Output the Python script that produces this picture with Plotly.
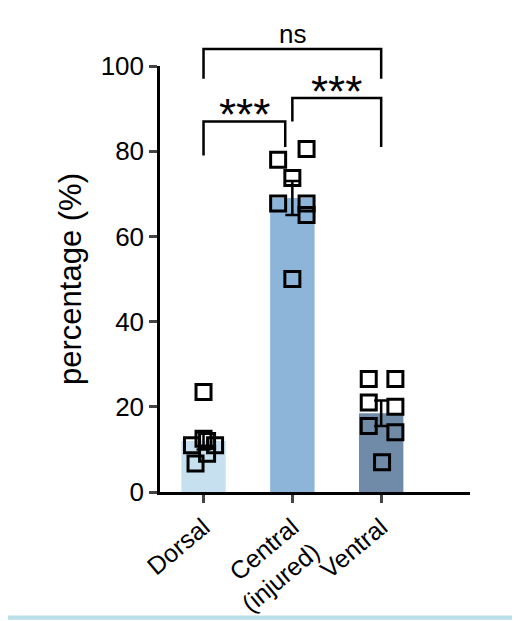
import plotly.graph_objects as go

categories = ["Dorsal", "Central<br>(injured)", "Ventral"]
means = [12, 69, 18.5]
errs = [2, 4, 3]
colors = ["#c6e0ef", "#8db5da", "#6f8ba8"]
pts_y = [
    [23.5, 11, 12.5, 12, 11, 6.7, 9],
    [78, 80.5, 73.7, 67.7, 67.7, 65, 50],
    [26.5, 26.5, 21, 20, 15.5, 14, 7],
]
pts_dx = [
    [0, -0.13, 0, 0.04, 0.13, -0.09, 0.04],
    [-0.16, 0.16, 0, -0.16, 0.16, 0.16, 0],
    [-0.14, 0.16, -0.14, 0.16, -0.14, 0.16, 0.01],
]

fig = go.Figure()
fig.add_bar(x=[0, 1, 2], y=means, width=0.5, marker=dict(color=colors, line_width=0),
            error_y=dict(type="data", array=errs, color="black", thickness=2.5, width=7))
for i in range(3):
    fig.add_scatter(x=[i + d for d in pts_dx[i]], y=pts_y[i], mode="markers",
                    marker=dict(symbol="square-open", size=15, color="black", line=dict(width=3)),
                    showlegend=False, cliponaxis=False)

def br(x0, x1, y, yl0, yl1):
    fig.add_shape(type="path", xref="x", yref="paper",
                  path=f"M {x0},{yl0/100} L {x0},{y/100} L {x1},{y/100} L {x1},{yl1/100}",
                  line=dict(color="black", width=2.5))

br(0, 2, 104, 97, 97)
br(0, 0.92, 87, 79, 81)
br(1.0, 2, 92.5, 87, 81)
fig.add_annotation(x=0.46, y=0.87, xref="x", yref="paper", text="***", showarrow=False,
                   yanchor="bottom", font=dict(size=44, color="black"), yshift=-20)
fig.add_annotation(x=1.5, y=0.925, xref="x", yref="paper", text="***", showarrow=False,
                   yanchor="bottom", font=dict(size=44, color="black"), yshift=-20)
fig.add_annotation(x=1, y=1.04, xref="x", yref="paper", text="ns", showarrow=False,
                   yanchor="bottom", font=dict(size=26, color="black"), yshift=-2)
fig.add_shape(type="rect", xref="paper", yref="paper", x0=-1, x1=2, y0=-0.29, y1=-0.30,
              fillcolor="#b9dfe9", line_width=0)

fig.update_layout(
    width=520, height=621, plot_bgcolor="white", paper_bgcolor="white", showlegend=False,
    margin=dict(l=152, r=58, t=58, b=129),
    font=dict(family="Liberation Sans, Arial", color="black", size=26),
    xaxis=dict(range=[-0.49, 3.0], tickvals=[0, 1, 2], ticktext=categories, tickangle=-40,
               showline=True, linecolor="black", linewidth=2.5, ticks="outside",
               ticklen=8, tickwidth=2.5, showgrid=False, zeroline=False,
               tickfont=dict(size=25)),
    yaxis=dict(range=[0, 100], tickvals=[0, 20, 40, 60, 80, 100], showline=True,
               linecolor="black", linewidth=2.5, ticks="outside", ticklen=8, tickwidth=2.5,
               showgrid=False, zeroline=False, title=dict(text="percentage (%)", standoff=10),
               tickfont=dict(size=26)),
)
fig.write_html("out.html")
